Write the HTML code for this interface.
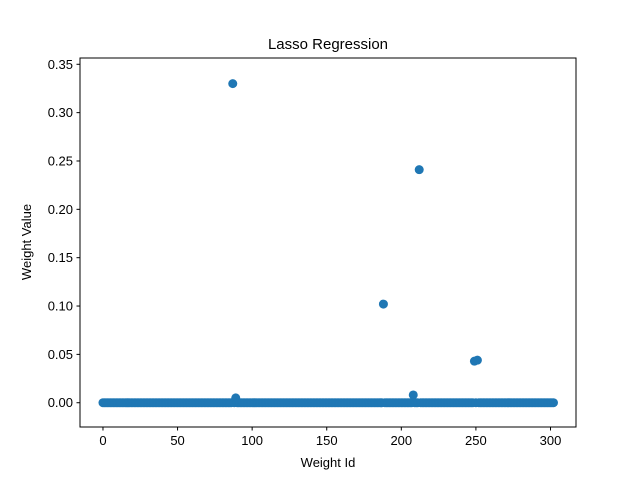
<!DOCTYPE html>
<html><head><meta charset="utf-8"><style>
body{margin:0;background:#fff;}
text{font-family:"Liberation Sans",sans-serif;}
</style></head><body>
<svg id="chart" width="640" height="480" xmlns="http://www.w3.org/2000/svg">
<rect width="640" height="480" fill="#fff"/>
<text x="328" y="49" font-size="15" text-anchor="middle">Lasso Regression</text>
<g id="ticks"></g>
<g id="points"></g>
<rect x="80" y="58" width="496" height="369" fill="none" stroke="#000" stroke-width="1"/>
<text x="328" y="467" font-size="13" text-anchor="middle">Weight Id</text>
<text x="31" y="242" font-size="13" text-anchor="middle" transform="rotate(-90 31 242)">Weight Value</text>
</svg>
<script>
const numWeights = 303;
const nonzeroIds = [87, 89, 188, 208, 212, 249, 251];
const nonzeroValues = [0.330, 0.005, 0.102, 0.008, 0.241, 0.043, 0.044];
const xTicks = [0, 50, 100, 150, 200, 250, 300];
const yTicks = [0.00, 0.05, 0.10, 0.15, 0.20, 0.25, 0.30, 0.35];

const NS = "http://www.w3.org/2000/svg";
const L = 80, R = 576, T = 58, B = 427;
const xMin = -15.4, xMax = 317.1, yMin = -0.0251, yMax = 0.3565;
const sx = v => L + (v - xMin) / (xMax - xMin) * (R - L);
const sy = v => B - (v - yMin) / (yMax - yMin) * (B - T);

const weights = new Array(numWeights).fill(0);
nonzeroIds.forEach((id, i) => { weights[id] = nonzeroValues[i]; });

const ticks = document.getElementById('ticks');
xTicks.forEach(t => {
  const x = sx(t);
  const ln = document.createElementNS(NS, 'line');
  ln.setAttribute('x1', x); ln.setAttribute('x2', x);
  ln.setAttribute('y1', B); ln.setAttribute('y2', B + 3.5);
  ln.setAttribute('stroke', '#000');
  
  
  ticks.appendChild(ln);
  const tx = document.createElementNS(NS, 'text');
  tx.setAttribute('x', x); tx.setAttribute('y', B + 18);
  tx.setAttribute('font-size', '13'); tx.setAttribute('text-anchor', 'middle');
  tx.textContent = t;
  
  
  ticks.appendChild(tx);
});
yTicks.forEach(t => {
  const y = sy(t);
  const ln = document.createElementNS(NS, 'line');
  ln.setAttribute('x1', L - 3.5); ln.setAttribute('x2', L);
  ln.setAttribute('y1', y); ln.setAttribute('y2', y);
  ln.setAttribute('stroke', '#000');
  
  
  ticks.appendChild(ln);
  const tx = document.createElementNS(NS, 'text');
  tx.setAttribute('x', L - 7); tx.setAttribute('y', y + 4.5);
  tx.setAttribute('font-size', '13'); tx.setAttribute('text-anchor', 'end');
  tx.textContent = t.toFixed(2);
  
  
  ticks.appendChild(tx);
});

const pts = document.getElementById('points');
weights.forEach((w, i) => {
  const c = document.createElementNS(NS, 'circle');
  c.setAttribute('cx', sx(i)); c.setAttribute('cy', sy(w));
  c.setAttribute('r', 4.5); c.setAttribute('fill', '#1f77b4');
  
  
  pts.appendChild(c);
});
</script>
</body></html>
